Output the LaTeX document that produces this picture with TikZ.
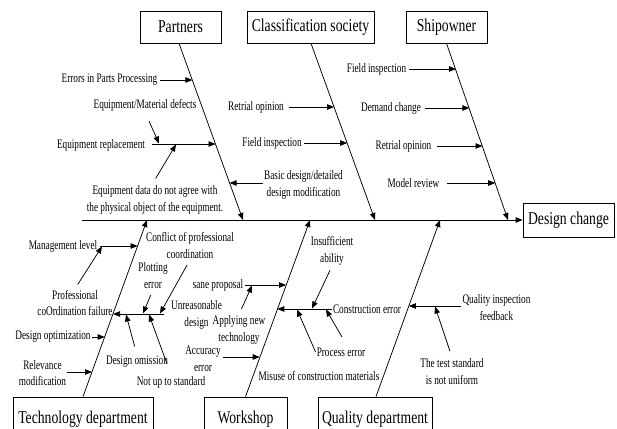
\documentclass[tikz,border=0pt]{standalone}
\usepackage{fontspec}
\usetikzlibrary{arrows.meta}
\newfontfamily\condserif[FakeStretch=0.71]{Liberation Serif}
\newfontfamily\boxserif[FakeStretch=0.76]{Liberation Serif}
\begin{document}
\begin{tikzpicture}[x=1pt,y=-1pt,
  lbl/.style={font=\condserif\fontsize{13}{16.8}\selectfont, align=center, inner sep=1pt},
  cause/.style={draw, line width=0.8pt, font=\boxserif\fontsize{18}{20}\selectfont,
    inner sep=0pt, minimum height=32pt},
  arr/.style={line width=0.75pt, -{Triangle[length=7pt,width=5.5pt]}},
  bone/.style={arr},
  spine/.style={arr, line width=1pt}]
\useasboundingbox (0,0) rectangle (617,428);
\clip (0,0) rectangle (617,428);
\fill[white] (0,0) rectangle (617,428);

% ---- category boxes and the effect ----
\node[cause, minimum width=81pt]  (partners) at (180.5,27) {Partners};
\node[cause, minimum width=127pt] (class)    at (310.5,27) {Classification society};
\node[cause, minimum width=81pt]  (ship)     at (446.5,27) {Shipowner};
\node[cause, minimum width=91pt, minimum height=34pt] (effect) at (568.5,220) {Design change};
\node[cause, minimum width=140pt, minimum height=44pt] (tech) at (83,419) {Technology department};
\node[cause, minimum width=83pt,  minimum height=44pt] (work) at (245.5,419) {Workshop};
\node[cause, minimum width=114pt, minimum height=44pt] (qual) at (375,419) {Quality department};

% ---- spine ----
\coordinate (tail) at (82,220);
\draw[spine] (tail) -- (effect.west);

% ---- main bones ----
\coordinate (jP) at (243,220);
\coordinate (jC) at (375,220);
\coordinate (jS) at (508,220);
\coordinate (jT) at (147,220);
\coordinate (jW) at (310,220);
\coordinate (jQ) at (440,220);
\draw[bone] ([xshift=-1.5pt]partners.south) -- (jP);
\draw[bone] ([xshift=0.5pt]class.south) -- (jC);
\draw[bone] (ship.south) -- (jS);
\draw[bone] (tech.north) -- (jT);
\draw[bone] (work.north) -- (jW);
\draw[bone] ([xshift=1pt]qual.north) -- (jQ);

% ---- Partners ----
\node[lbl] (e1) at (109.5,80) {Errors in Parts Processing};
\coordinate (p1) at (192.4,80);
\draw[arr, shorten <=1pt] (e1.east) -- (p1);
\node[lbl] (e2) at (145,105) {Equipment/Material defects};
\coordinate (p2) at (159,143.5);
\draw[arr, shorten <=10pt] (e2.south) -- (p2);
\node[lbl] (e3) at (101,145) {Equipment replacement};
\coordinate (p3) at (215.5,144);
\draw[arr, shorten <=6pt] (e3.east |- p3) -- (p3);
\node[lbl] (e4) at (155,200) {Equipment data do not agree with\\the physical object of the equipment.};
\coordinate (p4) at (176,144.5);
\draw[arr, shorten <=7pt] ([xshift=-3pt]e4.north) -- (p4);

% ---- Classification society ----
\node[lbl] (c1) at (256,107) {Retrial opinion};
\coordinate (p5) at (334.1,107);
\draw[arr, shorten <=4pt] (c1.east) -- (p5);
\node[lbl] (c2) at (272,143) {Field inspection};
\coordinate (p6) at (347.2,143);
\draw[arr, shorten <=1pt] (c2.east) -- (p6);
\node[lbl] (c3) at (303.5,185) {Basic design/detailed\\design modification};
\coordinate (p7) at (229.6,183);
\draw[arr] (c3.west |- p7) -- (p7);

% ---- Shipowner ----
\node[lbl] (s1) at (376.5,69) {Field inspection};
\coordinate (p8) at (456,69);
\draw[arr, shorten <=2pt] (s1.east) -- (p8);
\node[lbl] (s2) at (391,108) {Demand change};
\coordinate (p9) at (469.4,108);
\draw[arr, shorten <=3pt] (s2.east) -- (p9);
\node[lbl] (s3) at (403.5,146) {Retrial opinion};
\coordinate (p10) at (482.5,146);
\draw[arr, shorten <=4pt] (s3.east) -- (p10);
\node[lbl] (s4) at (413.5,183) {Model review};
\coordinate (p11) at (495.2,183);
\draw[arr, shorten <=7pt] (s4.east) -- (p11);

% ---- Technology department ----
\node[lbl] (t1) at (63,246) {Management level};
\coordinate (p12) at (137.6,246);
\draw[arr, shorten <=2pt] (t1.east) -- (p12);
\node[lbl] (t2) at (75,303) {Professional\\coOrdination failure};
\coordinate (p13) at (102,246.5);
\draw[arr, shorten <=5pt] (t2.north) -- (p13);
\node[lbl] (t4) at (196.5,314.5) {Unreasonable\\design};
\coordinate (p14) at (113,314);
\draw[arr, shorten <=6pt] (t4.west |- p14) -- (p14);
\node[lbl] (t3) at (190,245.5) {Conflict of professional\\coordination};
\coordinate (p15) at (160,313.5);
\draw[arr, shorten <=6pt] (t3.south) -- (p15);
\node[lbl] (t5) at (153,275.5) {Plotting\\error};
\coordinate (p16) at (143,313.5);
\draw[arr, shorten <=6pt] (t5.south) -- (p16);
\node[lbl] (t6) at (53,337) {Design optimization};
\coordinate (p17) at (104.7,337);
\draw[arr] (t6.east) -- (p17);
\node[lbl] (t7) at (42.5,373) {Relevance\\modification};
\coordinate (p18) at (92,372);
\draw[arr] (t7.east |- p18) -- (p18);
\node[lbl] (t8) at (137,362) {Design omission};
\coordinate (p19) at (126,314.5);
\draw[arr, shorten <=9pt] (t8.north) -- (p19);
\node[lbl] (t9) at (171,382) {Not up to standard};
\coordinate (p20) at (149,314.5);
\draw[arr, shorten <=12pt] (t9.north) -- (p20);

% ---- Workshop ----
\node[lbl] (w1) at (332,250.5) {Insufficient\\ability};
\coordinate (p21) at (312,308.5);
\draw[arr, shorten <=4.5pt] (w1.south) -- (p21);
\node[lbl] (w2) at (218,285) {sane proposal};
\coordinate (p22) at (286.1,285);
\draw[arr, shorten <=1pt] (w2.east) -- (p22);
\node[lbl] (w3) at (239,330) {Applying new\\technology};
\coordinate (p23) at (252,285.5);
\draw[arr, shorten <=6pt] (w3.north) -- (p23);
\node[lbl] (w4) at (203,358.5) {Accuracy\\error};
\coordinate (p24) at (259.7,357);
\draw[arr, shorten <=1pt] (w4.east |- p24) -- (p24);
\node[lbl] (w5) at (367,309) {Construction error};
\coordinate (p25) at (277.3,309);
\draw[arr] (w5.west) -- (p25);
\node[lbl] (w6) at (341,352) {Process error};
\coordinate (p26) at (297,309.5);
\draw[arr] (w6.west) -- (p26);
\coordinate (w8) at (342,337);
\coordinate (p27) at (326,309.5);
\draw[arr] (w8) -- (p27);
\node[lbl] (w7) at (319,376) {Misuse of construction materials};

% ---- Quality department ----
\node[lbl] (q1) at (496.5,307.5) {Quality inspection\\feedback};
\coordinate (p28) at (408.9,306);
\draw[arr] (q1.west |- p28) -- (p28);
\node[lbl] (q2) at (452,371.5) {The test standard\\is not uniform};
\coordinate (p29) at (435,306.5);
\draw[arr, shorten <=6.5pt] (q2.north) -- (p29);
\end{tikzpicture}
\end{document}
